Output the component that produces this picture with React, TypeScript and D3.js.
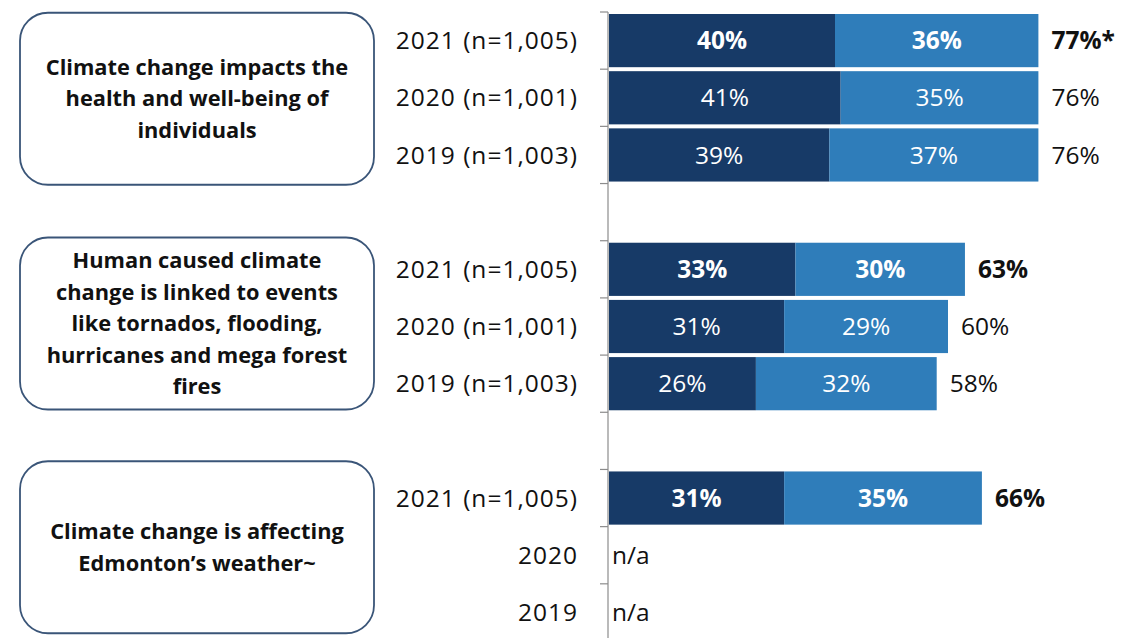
import * as d3 from 'd3';

// statements (left boxes), one per group
const STATEMENTS = [
  ['Climate change impacts the', 'health and well-being of', 'individuals'],
  ['Human caused climate', 'change is linked to events', 'like tornados, flooding,', 'hurricanes and mega forest', 'fires'],
  ['Climate change is affecting', 'Edmonton\u2019s weather~'],
];

// row labels in each group
const ROW_LABELS = [
  ['2021 (n=1,005)', '2020 (n=1,001)', '2019 (n=1,003)'],
  ['2021 (n=1,005)', '2020 (n=1,001)', '2019 (n=1,003)'],
  ['2021 (n=1,005)', '2020', '2019'],
];

// dark segment (strongly agree) and light segment (somewhat agree); null = n/a
const STRONGLY = [
  [40, 41, 39],
  [33, 31, 26],
  [31, null, null],
];
const SOMEWHAT = [
  [36, 35, 37],
  [30, 29, 32],
  [35, null, null],
];
const TOTALS = [
  ['77%*', '76%', '76%'],
  ['63%', '60%', '58%'],
  ['66%', 'n/a', 'n/a'],
];

const W = 1122;
const H = 638;
const DARK = '#173a67';
const LIGHT = '#2f7dba';
const FONT = "'Open Sans', 'Liberation Sans', sans-serif";
const FS = 24.5;

// one band per row plus a spacer row between groups
const rowKeys: string[] = [];
STATEMENTS.forEach((_, gi) => {
  ROW_LABELS[gi].forEach((_, ri) => rowKeys.push(`g${gi}r${ri}`));
  if (gi < STATEMENTS.length - 1) rowKeys.push(`gap${gi}`);
});

const y = d3.scaleBand<string>().domain(rowKeys).range([12, 641]).padding(0);
const x = d3.scaleLinear().domain([0, 100]).range([609, 609 + 565]);
const axisX = 608;
const boxShift = [1, -3, -8];

export default function App() {
  const bw = y.bandwidth();
  const ticks = d3.range(rowKeys.length + 1).map((i) => y.range()[0] + i * y.step());
  return (
    <svg width={W} height={H} style={{ position: 'absolute', left: 0, top: 0, background: '#fff' }}>
      {/* statement boxes */}
      {STATEMENTS.map((lines, gi) => {
        const top = y(`g${gi}r0`)!;
        const bot = y(`g${gi}r${ROW_LABELS[gi].length - 1}`)! + bw;
        const cy = (top + bot) / 2 + boxShift[gi];
        const lh = 31.5;
        return (
          <g key={gi}>
            <rect x={20} y={cy - 86} width={354} height={172} rx={28} ry={28}
              fill="#fff" stroke="#3a5578" strokeWidth={1.8} />
            {lines.map((t, li) => (
              <text key={li} x={197} y={cy + (li - (lines.length - 1) / 2) * lh}
                dy="0.35em" textAnchor="middle" fontFamily={FONT} fontWeight={700}
                fontSize={21.8} fill="#111">{t}</text>
            ))}
          </g>
        );
      })}

      {/* axis */}
      <line x1={axisX} x2={axisX} y1={ticks[0]} y2={H} stroke="#8c8c8c" strokeWidth={1.2} />
      {ticks.map((t, i) => (
        <line key={i} x1={axisX - 8} x2={axisX} y1={t} y2={t} stroke="#8c8c8c" strokeWidth={1.2} />
      ))}

      {/* rows */}
      {STATEMENTS.map((_, gi) =>
        ROW_LABELS[gi].map((lab, ri) => {
          const key = `g${gi}r${ri}`;
          const yc = y(key)! + bw / 2;
          const bold = ri === 0;
          const s = STRONGLY[gi][ri];
          const m = SOMEWHAT[gi][ri];
          return (
            <g key={key}>
              <text x={578} y={yc} dy="0.35em" textAnchor="end" fontFamily={FONT}
                fontSize={FS} letterSpacing={1} fill="#111">{lab}</text>
              {s != null && m != null ? (
                <>
                  <rect x={x(0)} y={y(key)! + 2} width={x(s) - x(0)} height={bw - 4} fill={DARK} />
                  <rect x={x(s)} y={y(key)! + 2} width={x(s + m) - x(s)} height={bw - 4} fill={LIGHT} />
                  <text x={(x(0) + x(s)) / 2} y={yc} dy="0.35em" textAnchor="middle" fontFamily={FONT}
                    fontSize={FS} fontWeight={bold ? 700 : 400} fill="#fff">{s}%</text>
                  <text x={(x(s) + x(s + m)) / 2} y={yc} dy="0.35em" textAnchor="middle" fontFamily={FONT}
                    fontSize={FS} fontWeight={bold ? 700 : 400} fill="#fff">{m}%</text>
                  <text x={x(s + m) + 13} y={yc} dy="0.35em" fontFamily={FONT}
                    fontSize={FS} fontWeight={bold ? 700 : 400} fill="#111">{TOTALS[gi][ri]}</text>
                </>
              ) : (
                <text x={axisX + 4} y={yc} dy="0.35em" fontFamily={FONT}
                  fontSize={FS} fill="#111">{TOTALS[gi][ri]}</text>
              )}
            </g>
          );
        })
      )}
    </svg>
  );
}
